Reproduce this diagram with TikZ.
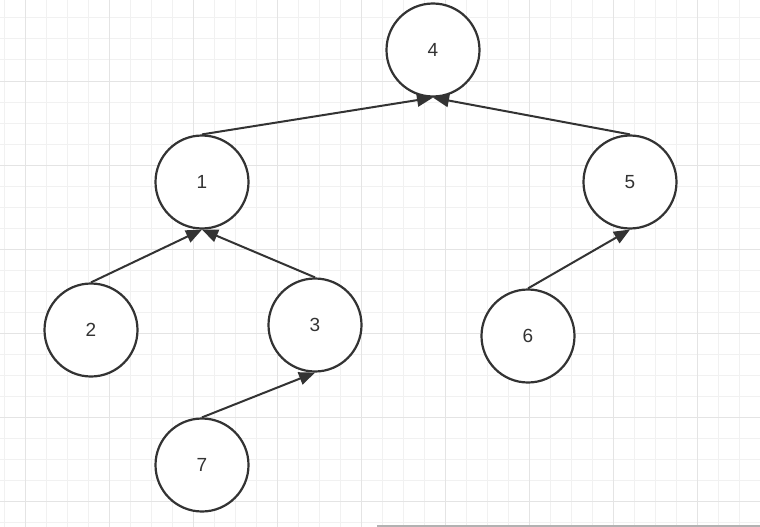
\documentclass[tikz,border=0pt]{standalone}
\usepackage{fontspec}
\setmainfont{Liberation Sans}
\usetikzlibrary{arrows.meta}
\definecolor{minorgrid}{HTML}{F1F1F1}
\definecolor{majorgrid}{HTML}{E4E4E4}
\definecolor{ink}{HTML}{333333}
\tikzset{
  tnode/.style={circle, draw=ink, line width=2.2pt, fill=white, minimum size=93pt, inner sep=0pt, font=\fontsize{19}{19}\selectfont, text=ink},
  link/.style={draw=ink, line width=2pt, -{Triangle[length=16pt,width=13pt]}}
}
\begin{document}
\begin{tikzpicture}[x=1pt,y=-1pt]
\useasboundingbox (0,0) rectangle (760,527);
\fill[white] (0,0) rectangle (760,527);
% grid
\foreach \i in {0,...,36} {
  \draw[minorgrid, line width=1pt] ({4+21*\i},0) -- ({4+21*\i},527);
}
\foreach \j in {1,...,25} {
  \draw[minorgrid, line width=1pt] (0,{-3+21*\j}) -- (760,{-3+21*\j});
}
\foreach \i in {0,...,9} {
  \draw[majorgrid, line width=1pt] ({25+84*\i},0) -- ({25+84*\i},527);
}
\foreach \j in {0,...,5} {
  \draw[majorgrid, line width=1pt] (0,{81+84*\j}) -- (760,{81+84*\j});
}
\draw[black!30, line width=1.5pt] (377,526) -- (760,526);
% nodes
\node[tnode] (n4) at (433,50) {4};
\node[tnode] (n1) at (202,182) {1};
\node[tnode] (n5) at (630,182) {5};
\node[tnode] (n2) at (91,330) {2};
\node[tnode] (n3) at (315,325) {3};
\node[tnode] (n6) at (528,336) {6};
\node[tnode] (n7) at (202,465) {7};
% edges
\draw[link] (n1.north) -- (n4.south);
\draw[link] (n5.north) -- (n4.south);
\draw[link] (n2.north) -- (n1.south);
\draw[link] (n3.north) -- (n1.south);
\draw[link] (n6.north) -- (n5.south);
\draw[link] (n7.north) -- (n3.south);
\end{tikzpicture}
\end{document}
